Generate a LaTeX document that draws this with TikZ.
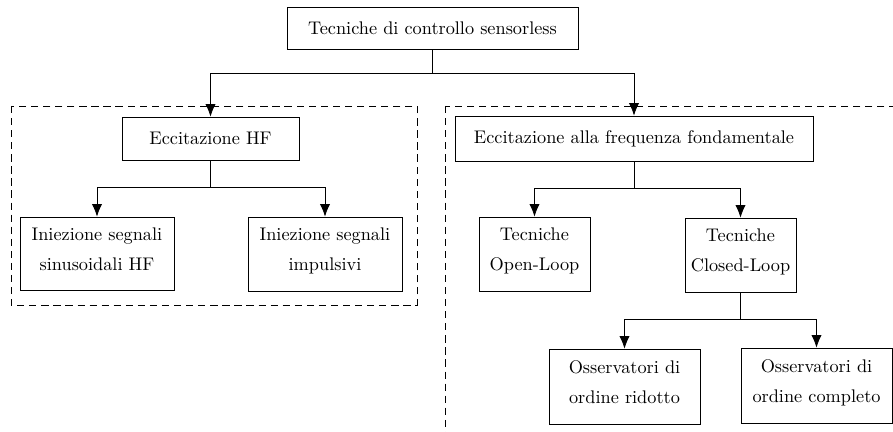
\documentclass[tikz,border=0pt]{standalone}
\usetikzlibrary{arrows.meta}
\begin{document}
\def\pxu{0.58pt}
\begin{tikzpicture}[x=0.58pt,y=-0.58pt,
  box/.style={draw, line width=0.45pt, align=center, inner sep=0pt, font=\fontsize{10.6}{17.5}\selectfont},
  two/.style={text depth=5.5pt},
  arr/.style={-{Latex[length=7.3pt,width=6pt]}, line width=0.45pt},
  ln/.style={line width=0.45pt},
  grp/.style={draw, dash pattern=on 4.2pt off 2.8pt, line width=0.4pt}]
\useasboundingbox (0,0) rectangle (893,432);
% dashed groups
\draw[grp] (11,106) rectangle (417,305);
\draw[grp] (445,106) rectangle (905,445);
% nodes
\node[box, minimum width={291*\pxu}, minimum height={42*\pxu}] (root) at (432.5,28) {Tecniche di controllo sensorless};
\node[box, minimum width={177*\pxu}, minimum height={43*\pxu}] (hf) at (210.5,138.5) {Eccitazione HF};
\node[box, two, minimum width={154*\pxu}, minimum height={73*\pxu}] (sin) at (97,253.5) {Iniezione segnali\\sinusoidali HF};
\node[box, two, minimum width={154*\pxu}, minimum height={74*\pxu}] (imp) at (325,254) {Iniezione segnali\\impulsivi};
\node[box, minimum width={358*\pxu}, minimum height={45*\pxu}] (ff) at (634,138.5) {Eccitazione alla frequenza fondamentale};
\node[box, two, minimum width={111*\pxu}, minimum height={74*\pxu}] (ol) at (534.5,254) {Tecniche\\Open-Loop};
\node[box, two, minimum width={111*\pxu}, minimum height={74*\pxu}] (cl) at (740.5,255) {Tecniche\\Closed-Loop};
\node[box, two, minimum width={151*\pxu}, minimum height={75*\pxu}] (rid) at (624.5,386.5) {Osservatori di\\ordine ridotto};
\node[box, two, minimum width={151*\pxu}, minimum height={75*\pxu}] (com) at (816.5,385.5) {Osservatori di\\ordine completo};
% connectors
\draw[ln] (root.south) -- ++(0,24) coordinate (j1);
\draw[arr] (j1) -| (hf.north);
\draw[arr] (j1) -| (ff.north);
\draw[ln] (hf.south) -- ++(0,27) coordinate (j2);
\draw[arr] (j2) -| (sin.north);
\draw[arr] (j2) -| (imp.north);
\draw[ln] (ff.south) -- ++(0,27) coordinate (j3);
\draw[arr] (j3) -| (ol.north);
\draw[arr] (j3) -| (cl.north);
\draw[ln] (cl.south) -- ++(0,27) coordinate (j4);
\draw[arr] (j4) -| (rid.north);
\draw[arr] (j4) -| (com.north);
\end{tikzpicture}
\end{document}
